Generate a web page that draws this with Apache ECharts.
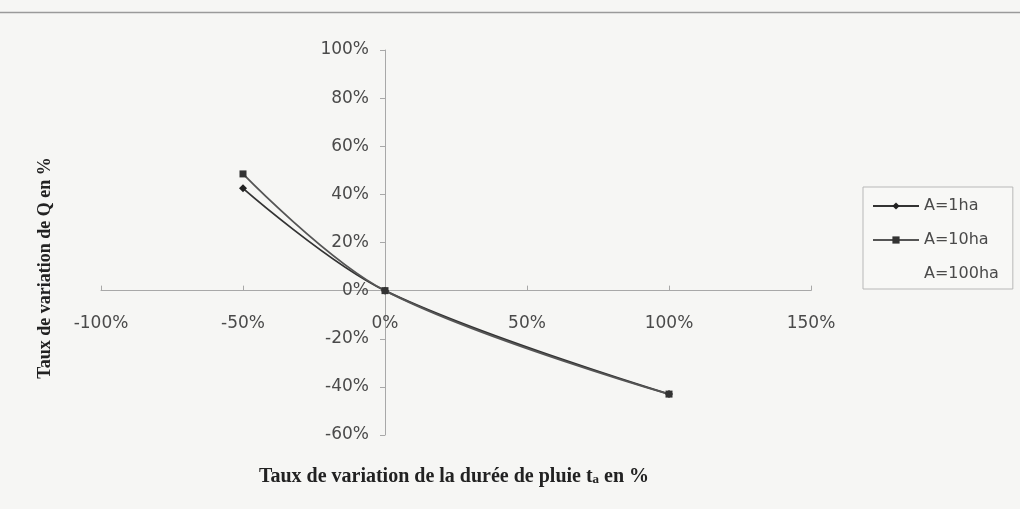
<!DOCTYPE html>
<html>
<head>
<meta charset="utf-8">
<script src="https://cdn.jsdelivr.net/npm/echarts@6/dist/echarts.min.js"></script>
<style>
  html, body { margin: 0; padding: 0; background: #f6f6f4; }
  #chart { width: 1020px; height: 509px; }
</style>
</head>
<body>
<div id="chart"></div>
<script>
// Variation of rain duration (x, %) against variation of peak discharge Q (y, %)
const durationChange = [-50, 0, 100];
const seriesNames = ['A=1ha', 'A=10ha', 'A=100ha'];
const q1ha = [42.5, 0, -43];
const q10ha = [48.5, 0, -43];
const q100ha = [];

const xTicks = { min: -100, max: 150, step: 50 };
const yTicks = { min: -60, max: 100, step: 20 };

const pairs = (xs, ys) => ys.map((v, i) => [xs[i], v]);

const GRID = { left: 101, right: 209, top: 50, bottom: 74 };
const W = 1020, H = 509;

const chart = echarts.init(document.getElementById('chart'), null, { renderer: 'canvas' });

const axisFont = { fontFamily: 'DejaVu Sans, sans-serif', fontSize: 17, color: '#4a4a4a' };

// the axes cross at the origin: shift each axis from the grid edge to the zero of the other
function zeroOffsets() {
  const xSpan = W - GRID.left - GRID.right;
  const ySpan = H - GRID.top - GRID.bottom;
  const x0 = (0 - xTicks.min) / (xTicks.max - xTicks.min) * xSpan;
  const y0 = (yTicks.max - 0) / (yTicks.max - yTicks.min) * ySpan;
  return { y: -x0, x: -(ySpan - y0) };
}
const off = zeroOffsets();

chart.setOption({
  backgroundColor: '#f6f6f4',
  animation: false,
  grid: { left: GRID.left, right: GRID.right, top: GRID.top, bottom: GRID.bottom, containLabel: false },
  xAxis: {
    type: 'value', position: 'bottom', offset: off.x,
    min: xTicks.min, max: xTicks.max, interval: xTicks.step,
    axisLine: { onZero: false, lineStyle: { color: '#a8a8a8', width: 1 } },
    axisTick: { show: true, inside: true, length: 5, lineStyle: { color: '#a8a8a8' } },
    splitLine: { show: false },
    axisLabel: Object.assign({ margin: 24, formatter: '{value}%' }, axisFont)
  },
  yAxis: {
    type: 'value', position: 'left', offset: off.y,
    min: yTicks.min, max: yTicks.max, interval: yTicks.step,
    axisLine: { show: true, onZero: false, lineStyle: { color: '#a8a8a8', width: 1 } },
    axisTick: { show: true, length: 5, lineStyle: { color: '#a8a8a8' } },
    splitLine: { show: false },
    axisLabel: Object.assign({ margin: 16, formatter: '{value}%' }, axisFont)
  },
  legend: {
    orient: 'vertical',
    left: 863, top: 187,
    padding: [11, 14, 7, 9],
    itemWidth: 46, itemHeight: 9, itemGap: 18,
    backgroundColor: '#f8f8f6',
    borderColor: '#b8b8b8', borderWidth: 1,
    textStyle: { fontFamily: 'DejaVu Sans, sans-serif', fontSize: 16, color: '#4a4a4a' },
    data: [
      { name: seriesNames[0] },
      { name: seriesNames[1] },
      { name: seriesNames[2], icon: 'none' }
    ]
  },
  series: [
    {
      name: seriesNames[0], type: 'line', smooth: 0.35,
      data: pairs(durationChange, q1ha),
      symbol: 'diamond', symbolSize: 8,
      lineStyle: { color: '#333', width: 1.8 },
      itemStyle: { color: '#222' }
    },
    {
      name: seriesNames[1], type: 'line', smooth: 0.35,
      data: pairs(durationChange, q10ha),
      symbol: 'rect', symbolSize: 7,
      lineStyle: { color: '#555', width: 1.8 },
      itemStyle: { color: '#333' }
    },
    {
      name: seriesNames[2], type: 'line',
      data: pairs(durationChange, q100ha),
      symbol: 'none',
      lineStyle: { color: '#f6f6f4', width: 1 },
      itemStyle: { color: '#f6f6f4' }
    }
  ],
  graphic: [
    {
      type: 'line', silent: true,
      shape: { x1: 0, y1: 12.5, x2: 1020, y2: 12.5 },
      style: { stroke: '#9a9a9a', lineWidth: 1.5 }
    },
    {
      type: 'text', silent: true,
      x: 45, y: 268, rotation: Math.PI / 2,
      style: {
        text: 'Taux de variation de Q en %',
        fontFamily: 'Liberation Serif, Times New Roman, serif',
        fontWeight: 'bold', fontSize: 18, fill: '#222',
        align: 'center', verticalAlign: 'middle'
      }
    },
    {
      type: 'text', silent: true,
      x: 454, y: 477,
      style: {
        text: 'Taux de variation de la durée de pluie t{s|a} en %',
        fontFamily: 'Liberation Serif, Times New Roman, serif',
        fontWeight: 'bold', fontSize: 20, fill: '#222',
        align: 'center', verticalAlign: 'middle',
        rich: {
          s: {
            fontFamily: 'Liberation Serif, Times New Roman, serif',
            fontWeight: 'bold', fontSize: 13, fill: '#222',
            padding: [6, 0, 0, 0]
          }
        }
      }
    }
  ]
});
</script>
</body>
</html>
